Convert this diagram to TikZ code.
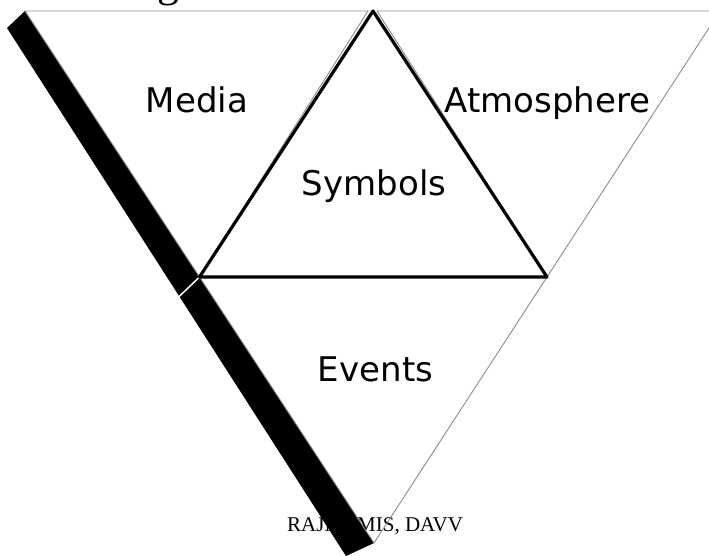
\documentclass[tikz,border=0pt]{standalone}
\usepackage{fontspec}
\setmainfont{Liberation Serif}
\newfontfamily\labelfont{DejaVu Sans}
\usetikzlibrary{calc}
\tikzset{
  outline/.style={draw=black!45, line width=0.9pt},
  innerline/.style={draw=black, line width=3.2pt, line join=round},
  shadowband/.style={fill=black},
  zonelabel/.style={font=\labelfont\fontsize{34}{40}\selectfont, anchor=base, inner sep=0pt},
  creditline/.style={font=\fontsize{21}{25}\selectfont, anchor=base west, inner sep=0pt},
}

\begin{document}
\begin{tikzpicture}[x=1pt, y=-1pt]
  \useasboundingbox (0,0) rectangle (709,555);
  % corners of the triangles
  \coordinate (tl) at (25,11);
  \coordinate (tml) at (368,11);
  \coordinate (tm) at (373,11);
  \coordinate (tmr) at (377,11);
  \coordinate (tr) at (720,11);
  \coordinate (lm) at (199.5,277);
  \coordinate (rm) at (547,277);
  \coordinate (b) at (374,543);

  \node[font=\fontsize{44}{48}\selectfont, anchor=base, inner sep=0pt] (title) at (168,-4) {g};
  \node[creditline] (credit) at (287,531) {RAJNI, MIS, DAVV};

  % black band along the left side
  \fill[shadowband] (tl) -- (b) -- (346,556) -- (7,28) -- cycle;
  \draw[white, line width=1.5pt] (lm) -- ++(-23,22);

  \draw[outline] (tl) -- (tml) -- (lm) -- cycle;
  \draw[outline] (tmr) -- (tr) -- (rm) -- cycle;
  \draw[outline] (lm) -- (rm) -- (b) -- cycle;
  \draw[innerline] (tm) -- (lm) -- (rm) -- cycle;

  \node[zonelabel] (media) at (197,112) {Media};
  \node[zonelabel] (atmo) at (547.5,112) {Atmosphere};
  \node[zonelabel] (symbols) at (374,195) {Symbols};
  \node[zonelabel] (events) at (375.5,381) {Events};
\end{tikzpicture}
\end{document}
